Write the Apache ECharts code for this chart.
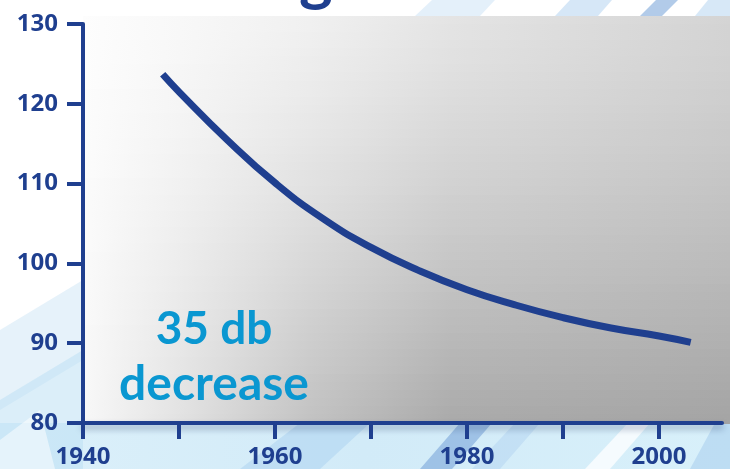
<!DOCTYPE html>
<html>
<head>
<meta charset="utf-8">
<script src="https://cdn.jsdelivr.net/npm/echarts@6/dist/echarts.min.js"></script>
<style>
  html, body { margin: 0; padding: 0; background: #ffffff; }
  #chart { width: 730px; height: 469px; }
</style>
</head>
<body>
<div id="chart"></div>
<script>
// Noise level (dB) by year
const years = [1948.3, 1950, 1955, 1960, 1965, 1970, 1975, 1980, 1985, 1990, 1995, 2000, 2003.3];
const noiseDb = [123.7, 121.5, 115.5, 110.1, 105.6, 102.0, 99.1, 96.7, 94.8, 93.2, 91.9, 90.9, 90.1];

// Axis ticks and labels
const xTickYears = [1940, 1950, 1960, 1970, 1980, 1990, 2000];
const xLabelYears = [1940, 1960, 1980, 2000];
const annotationLines = ['35 db', 'decrease'];

const NAVY = '#1f3f8f';
const CYAN = '#0a97d1';
const W = 730, H = 469;

// Plot panel shading: horizontal strips, each with its own horizontal gradient,
// blending from a light top row to a darker bottom row.
const panel = { x: 83, y: 16, w: W - 83, h: 423 - 16 };
const stopPos = [0, 0.15, 0.35, 0.57, 1];
const topRow = [253, 248, 240, 228, 212];
const bottomRow = [248, 226, 194, 170, 164];
function grey(v) { const c = Math.round(v); return 'rgb(' + c + ',' + c + ',' + c + ')'; }
const panelStrips = [];
const N = 50;
for (let i = 0; i < N; i++) {
  const t = (i + 0.5) / N;
  const k = Math.pow(t, 1.3);
  const colorStops = stopPos.map((p, j) => ({ offset: p, color: grey(topRow[j] + (bottomRow[j] - topRow[j]) * k) }));
  const y0 = panel.y + panel.h * i / N;
  panelStrips.push({
    type: 'rect', z: -9, silent: true,
    shape: { x: panel.x, y: Math.floor(y0), width: panel.w, height: Math.ceil(panel.h / N) + 1 },
    style: { fill: new echarts.graphic.LinearGradient(0, 0, 1, 0, colorStops) }
  });
}

// Decorative light-blue streaks behind the chart
function streak(points, fill) {
  return { type: 'polygon', z: -10, silent: true, shape: { points: points }, style: { fill: fill } };
}
const backdrop = [
  { type: 'rect', z: -11, silent: true, shape: { x: 0, y: 0, width: W, height: H }, style: { fill: '#ffffff' } },
  { type: 'rect', z: -10, silent: true, shape: { x: 0, y: 423, width: W, height: H - 423 },
    style: { fill: new echarts.graphic.LinearGradient(0, 0, 1, 0, [
      { offset: 0, color: '#dcf0fa' }, { offset: 0.5, color: '#d2ebf8' }, { offset: 1, color: '#d8f0fa' }]) } },
  streak([[0, 330], [83, 280], [83, 360], [0, 410]], 'rgba(205,230,246,0.5)'),
  streak([[0, 400], [83, 350], [83, 469], [0, 469]], 'rgba(190,224,244,0.55)'),
  streak([[0, 440], [40, 410], [55, 469], [0, 469]], 'rgba(255,255,255,0.5)'),
  streak([[240, 469], [320, 469], [370, 423], [300, 423]], 'rgba(160,202,238,0.4)'),
  streak([[420, 469], [452, 469], [492, 423], [460, 423]], 'rgba(105,152,212,0.5)'),
  streak([[472, 469], [500, 469], [540, 423], [515, 423]], 'rgba(175,208,240,0.45)'),
  streak([[585, 469], [610, 469], [650, 423], [628, 423]], 'rgba(255,255,255,0.75)'),
  streak([[690, 469], [730, 469], [730, 423], [715, 423]], 'rgba(150,192,232,0.4)'),
  streak([[415, 16], [480, 16], [495, 0], [432, 0]], 'rgba(205,228,246,0.55)'),
  streak([[555, 16], [598, 16], [612, 0], [570, 0]], 'rgba(180,212,240,0.55)'),
  streak([[640, 16], [662, 16], [678, 0], [656, 0]], 'rgba(115,160,215,0.55)'),
  streak([[695, 16], [730, 16], [730, 0], [708, 0]], 'rgba(175,210,240,0.5)')
];

const chart = echarts.init(document.getElementById('chart'), null, { renderer: 'canvas' });

chart.setOption({
  animation: false,
  backgroundColor: 'transparent',
  grid: { left: 83, right: 8, top: 24, bottom: 46, containLabel: false },
  xAxis: {
    type: 'value',
    min: 1940,
    max: 2006.56,
    splitLine: { show: false },
    axisLine: { show: true, onZero: false,
      lineStyle: { color: NAVY, width: 4, shadowColor: 'rgba(20,40,90,0.35)', shadowBlur: 6, shadowOffsetY: 4 } },
    axisTick: { show: true, length: 16, inside: false, customValues: xTickYears,
      lineStyle: { color: NAVY, width: 4 } },
    axisLabel: { show: true, customValues: xLabelYears, margin: 22,
      color: NAVY, fontFamily: 'Open Sans', fontWeight: 'bold', fontSize: 24,
      formatter: function (v) { return String(Math.round(v)); } }
  },
  yAxis: {
    type: 'value',
    min: 80,
    max: 130,
    interval: 10,
    splitLine: { show: false },
    axisLine: { show: true, onZero: false, lineStyle: { color: NAVY, width: 4 } },
    axisTick: { show: true, length: 16, inside: false, lineStyle: { color: NAVY, width: 4 } },
    axisLabel: { show: true, margin: 25, color: NAVY, fontFamily: 'Open Sans', fontWeight: 'bold', fontSize: 24,
      padding: [0, 0, 8, 0] }
  },
  series: [{
    type: 'line',
    data: years.map((y, i) => [y, noiseDb[i]]),
    smooth: true,
    showSymbol: false,
    symbol: 'none',
    lineStyle: { color: NAVY, width: 7, cap: 'butt' },
    z: 5
  }],
  graphic: backdrop.concat(panelStrips).concat([
    { type: 'text', z: 10, silent: true, left: 299, top: -54,
      style: { text: 'g', fill: NAVY, font: 'bold 64px Lato' } },
    { type: 'text', z: 10, silent: true, x: 214, y: 329,
      style: { text: annotationLines[0], fill: CYAN, font: 'bold 46px Lato', align: 'center', verticalAlign: 'middle' } },
    { type: 'text', z: 10, silent: true, x: 214, y: 385,
      style: { text: annotationLines[1], fill: CYAN, font: 'bold 48px Lato', align: 'center', verticalAlign: 'middle' } }
  ])
});
</script>
</body>
</html>
